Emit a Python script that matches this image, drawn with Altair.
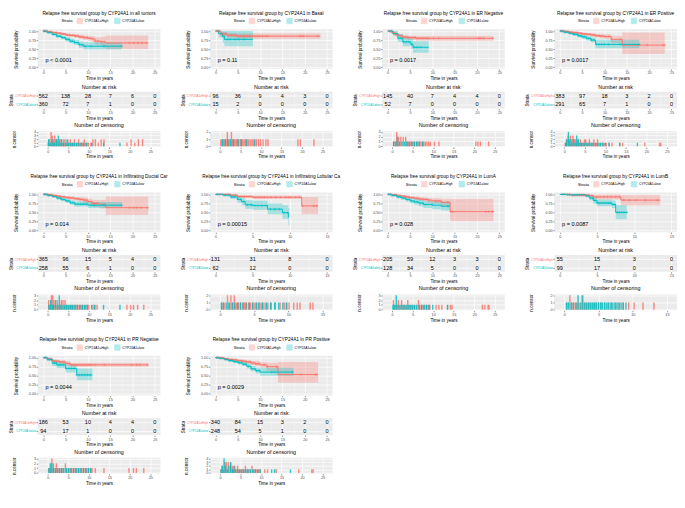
import altair as alt
import pandas as pd

RED, TEAL, BG = "#F8766D", "#00BFC4", "#EBEBEB"
FONT = "Liberation Sans"
GROUPS = ["CYP24A1=High", "CYP24A1=low"]

subsets = ["all tumors", "Basal", "ER Negative", "ER Positive", "Infiltrating Ductal Car",
           "Infiltrating Lobular Ca", "LumA", "LumB", "PR Negative", "PR Positive"]
x_max = [25, 25, 25, 25, 25, 15, 25, 15, 25, 25]
p_text = ["p < 0.0001", "p = 0.11", "p = 0.0017", "p = 0.0017", "p = 0.014",
          "p = 0.00015", "p = 0.028", "p = 0.0087", "p = 0.0044", "p = 0.0029"]
risk_high = [[562, 138, 28, 7, 6, 0], [96, 36, 9, 4, 3, 0], [145, 40, 7, 4, 4, 0],
             [383, 97, 18, 3, 2, 0], [365, 96, 15, 5, 4, 0], [131, 31, 8, 0],
             [205, 59, 12, 3, 3, 0], [55, 15, 3, 0], [186, 53, 10, 4, 4, 0],
             [340, 84, 15, 3, 2, 0]]
risk_low = [[360, 72, 7, 1, 0, 0], [15, 2, 0, 0, 0, 0], [52, 7, 0, 0, 0, 0],
            [291, 65, 7, 1, 0, 0], [258, 55, 6, 1, 0, 0], [62, 12, 0, 0],
            [128, 34, 5, 0, 0, 0], [99, 17, 0, 0], [94, 17, 1, 0, 0, 0],
            [248, 54, 5, 1, 0, 0]]

# Kaplan-Meier steps: time, survival, lower CI, upper CI
high_t = [[0, 1, 2, 3, 4, 5, 6, 7, 8, 9, 10, 11, 11.6, 13, 14, 23.5],
          [0, 1.2, 2.6, 4.7, 23.5],
          [0, 0.8, 1.5, 2.0, 2.7, 3.4, 4.5, 6.3, 23.7],
          [0, 1, 2, 3, 4, 5, 6, 7, 8, 9, 10, 11.5, 14, 23.5],
          [0, 1, 2, 3, 4, 5, 6, 7, 8, 9, 10, 11, 12.5, 14, 23.5],
          [0, 2, 3, 5, 11.6, 13.8],
          [0, 1, 2, 3, 4, 5, 6, 7, 8, 9, 10, 12, 14, 23.7],
          [0, 1.5, 4.0, 4.5, 8.2, 13.5],
          [0, 1, 2, 2.5, 3.5, 5, 6, 23.5],
          [0, 1, 2, 3, 4, 5, 6, 7, 8, 9, 10, 11.5, 14, 23.0]]
high_s = [[1.0, 0.98, 0.96, 0.94, 0.92, 0.89, 0.88, 0.86, 0.84, 0.82, 0.80, 0.78, 0.72, 0.70, 0.67, 0.67],
          [1.0, 0.92, 0.88, 0.86, 0.86],
          [1.0, 0.97, 0.93, 0.89, 0.86, 0.83, 0.82, 0.80, 0.80],
          [1.0, 0.99, 0.97, 0.96, 0.94, 0.92, 0.91, 0.89, 0.87, 0.86, 0.85, 0.77, 0.61, 0.61],
          [1.0, 0.99, 0.97, 0.95, 0.93, 0.91, 0.90, 0.88, 0.86, 0.84, 0.80, 0.75, 0.73, 0.63, 0.63],
          [1.0, 0.98, 0.94, 0.92, 0.68, 0.68],
          [1.0, 0.99, 0.97, 0.95, 0.93, 0.91, 0.89, 0.87, 0.86, 0.84, 0.82, 0.78, 0.52, 0.52],
          [1.0, 0.98, 0.97, 0.93, 0.84, 0.84],
          [1.0, 0.96, 0.92, 0.90, 0.88, 0.84, 0.80, 0.80],
          [1.0, 0.99, 0.97, 0.95, 0.94, 0.92, 0.90, 0.88, 0.85, 0.83, 0.80, 0.75, 0.53, 0.53]]
high_lo = [[1.0, 0.97, 0.94, 0.92, 0.89, 0.86, 0.84, 0.82, 0.79, 0.76, 0.73, 0.70, 0.62, 0.58, 0.50, 0.50],
           [1.0, 0.86, 0.81, 0.79, 0.79],
           [1.0, 0.94, 0.89, 0.84, 0.80, 0.77, 0.75, 0.73, 0.73],
           [1.0, 0.98, 0.95, 0.93, 0.91, 0.89, 0.87, 0.85, 0.82, 0.80, 0.78, 0.67, 0.36, 0.36],
           [1.0, 0.98, 0.95, 0.92, 0.90, 0.87, 0.85, 0.83, 0.80, 0.77, 0.72, 0.65, 0.61, 0.43, 0.43],
           [1.0, 0.95, 0.90, 0.87, 0.45, 0.45],
           [1.0, 0.98, 0.95, 0.92, 0.90, 0.87, 0.85, 0.82, 0.80, 0.77, 0.74, 0.66, 0.25, 0.25],
           [1.0, 0.94, 0.91, 0.86, 0.70, 0.70],
           [1.0, 0.93, 0.88, 0.85, 0.83, 0.78, 0.75, 0.75],
           [1.0, 0.98, 0.95, 0.93, 0.91, 0.88, 0.86, 0.83, 0.79, 0.76, 0.72, 0.64, 0.30, 0.30]]
high_hi = [[1.0, 0.99, 0.98, 0.97, 0.95, 0.93, 0.92, 0.91, 0.89, 0.88, 0.87, 0.86, 0.83, 0.84, 0.88, 0.88],
           [1.0, 0.98, 0.95, 0.93, 0.93],
           [1.0, 1.0, 0.97, 0.94, 0.92, 0.89, 0.88, 0.87, 0.87],
           [1.0, 1.0, 0.99, 0.98, 0.97, 0.95, 0.94, 0.93, 0.92, 0.91, 0.91, 0.87, 0.96, 0.96],
           [1.0, 1.0, 0.99, 0.98, 0.96, 0.95, 0.94, 0.93, 0.92, 0.91, 0.88, 0.85, 0.85, 0.94, 0.94],
           [1.0, 1.0, 0.98, 0.97, 0.93, 0.93],
           [1.0, 1.0, 0.99, 0.98, 0.97, 0.95, 0.94, 0.92, 0.91, 0.90, 0.89, 0.88, 0.87, 0.87],
           [1.0, 1.0, 1.0, 1.0, 0.98, 0.98],
           [1.0, 0.99, 0.96, 0.95, 0.93, 0.90, 0.86, 0.86],
           [1.0, 1.0, 0.99, 0.98, 0.97, 0.95, 0.94, 0.93, 0.91, 0.90, 0.88, 0.86, 0.88, 0.88]]

low_t = [[0, 1, 2, 3, 4, 5, 6, 7, 8, 9, 17.6],
         [0, 0.7, 1.6, 2.0, 8.4],
         [0, 1.2, 2.3, 3.4, 5.2, 5.7, 9.2],
         [0, 1, 2, 3, 4, 5, 6, 7, 8, 17.8],
         [0, 1, 2, 3, 4, 5, 6, 7, 10, 17.6],
         [0, 1, 2, 3, 3.5, 4, 5, 7, 9, 9.8, 9.9],
         [0, 1, 2, 3, 4, 5, 6, 7, 8, 10, 12, 14],
         [0, 1.0, 3.5, 4.0, 4.5, 5.0, 7.0, 7.5, 9.0],
         [0, 1, 2, 3, 5, 7.5, 11],
         [0, 1, 2, 3, 4, 5, 6, 7, 8, 9, 10, 17.5]]
low_s = [[1.0, 0.96, 0.91, 0.86, 0.82, 0.77, 0.72, 0.68, 0.62, 0.58, 0.58],
         [1.0, 0.93, 0.85, 0.77, 0.77],
         [1.0, 0.93, 0.80, 0.70, 0.63, 0.55, 0.55],
         [1.0, 0.97, 0.94, 0.91, 0.87, 0.84, 0.80, 0.75, 0.63, 0.63],
         [1.0, 0.97, 0.94, 0.90, 0.86, 0.82, 0.77, 0.73, 0.70, 0.70],
         [1.0, 0.98, 0.93, 0.86, 0.80, 0.71, 0.69, 0.59, 0.49, 0.37, 0.37],
         [1.0, 0.97, 0.93, 0.90, 0.86, 0.82, 0.79, 0.76, 0.72, 0.70, 0.67, 0.67],
         [1.0, 0.99, 0.96, 0.90, 0.83, 0.76, 0.72, 0.50, 0.50],
         [1.0, 0.95, 0.85, 0.80, 0.70, 0.52, 0.52],
         [1.0, 0.98, 0.95, 0.92, 0.89, 0.86, 0.82, 0.76, 0.69, 0.64, 0.60, 0.60]]
low_lo = [[1.0, 0.94, 0.88, 0.82, 0.77, 0.71, 0.66, 0.61, 0.54, 0.49, 0.49],
          [1.0, 0.82, 0.68, 0.58, 0.58],
          [1.0, 0.86, 0.70, 0.58, 0.50, 0.40, 0.40],
          [1.0, 0.95, 0.91, 0.87, 0.83, 0.79, 0.74, 0.68, 0.52, 0.52],
          [1.0, 0.95, 0.91, 0.86, 0.81, 0.77, 0.71, 0.66, 0.62, 0.62],
          [1.0, 0.94, 0.87, 0.77, 0.70, 0.60, 0.57, 0.45, 0.32, 0.15, 0.15],
          [1.0, 0.94, 0.89, 0.85, 0.80, 0.75, 0.71, 0.67, 0.62, 0.59, 0.55, 0.55],
          [1.0, 0.97, 0.92, 0.84, 0.75, 0.67, 0.62, 0.31, 0.31],
          [1.0, 0.90, 0.77, 0.71, 0.59, 0.37, 0.37],
          [1.0, 0.96, 0.92, 0.88, 0.85, 0.81, 0.77, 0.70, 0.62, 0.56, 0.50, 0.50]]
low_hi = [[1.0, 0.98, 0.94, 0.90, 0.87, 0.83, 0.79, 0.75, 0.71, 0.69, 0.69],
          [1.0, 1.0, 1.0, 1.0, 1.0],
          [1.0, 1.0, 0.92, 0.84, 0.78, 0.72, 0.72],
          [1.0, 0.99, 0.97, 0.95, 0.92, 0.89, 0.86, 0.82, 0.76, 0.76],
          [1.0, 0.99, 0.97, 0.94, 0.91, 0.88, 0.84, 0.81, 0.79, 0.79],
          [1.0, 1.0, 0.99, 0.95, 0.91, 0.84, 0.82, 0.75, 0.70, 0.62, 0.62],
          [1.0, 0.99, 0.97, 0.95, 0.92, 0.89, 0.87, 0.85, 0.82, 0.81, 0.80, 0.80],
          [1.0, 1.0, 1.0, 0.96, 0.91, 0.86, 0.83, 0.70, 0.70],
          [1.0, 1.0, 0.93, 0.89, 0.81, 0.70, 0.70],
          [1.0, 1.0, 0.98, 0.96, 0.94, 0.91, 0.88, 0.83, 0.77, 0.73, 0.72, 0.72]]

# censoring events: (time, count)
cens_high = [
    [(0.1, 1), (0.4, 2), (0.8, 4), (1.1, 3), (1.4, 2), (1.7, 3), (2.0, 2), (2.3, 2), (2.6, 1), (2.9, 2), (3.2, 2), (3.6, 1), (3.9, 2), (4.2, 2), (4.5, 1), (4.9, 2), (5.2, 1), (5.5, 2), (5.9, 1), (6.2, 1), (6.5, 2), (6.9, 1), (7.2, 1), (7.5, 2), (7.9, 1), (8.2, 1), (8.5, 1), (8.9, 2), (9.2, 1), (9.6, 1), (9.9, 1), (10.5, 1), (11.0, 2), (11.6, 2), (12.3, 1), (13.0, 2), (13.7, 2), (19.3, 1), (20.3, 2), (21.2, 1), (22.1, 2), (23.1, 2)],
    [(0.2, 1), (0.5, 1), (0.9, 1), (1.2, 1), (1.5, 1), (1.8, 2), (2.1, 1), (2.4, 1), (2.8, 2), (3.1, 1), (3.4, 1), (3.7, 1), (4.0, 1), (4.3, 1), (4.6, 1), (5.0, 1), (5.3, 1), (5.6, 1), (5.9, 1), (6.3, 1), (6.6, 1), (6.9, 1), (7.3, 1), (7.6, 1), (8.0, 1), (8.3, 1), (8.9, 1), (9.4, 1), (9.9, 1), (10.5, 1), (11.2, 1), (11.7, 1), (19.0, 1), (19.6, 1), (22.9, 1)],
    [(0.3, 1), (0.7, 1), (1.1, 3), (1.6, 2), (2.1, 2), (2.7, 2), (3.3, 2), (3.7, 1), (4.0, 1), (4.4, 1), (4.8, 1), (5.1, 1), (5.5, 1), (5.9, 1), (6.2, 1), (6.6, 1), (7.0, 1), (7.4, 1), (7.7, 1), (8.1, 1), (8.5, 1), (8.9, 1), (9.3, 1), (10.3, 1), (11.4, 1), (20.4, 1), (20.9, 1), (21.5, 1), (23.5, 1)],
    [(0.2, 1), (0.5, 2), (0.9, 3), (1.2, 2), (1.5, 3), (1.8, 2), (2.1, 3), (2.4, 2), (2.7, 2), (3.0, 1), (3.3, 2), (3.6, 1), (3.9, 2), (4.2, 1), (4.5, 1), (4.9, 2), (5.2, 2), (5.5, 1), (5.8, 1), (6.1, 2), (6.5, 1), (6.8, 1), (7.2, 2), (7.5, 1), (7.8, 1), (8.1, 2), (8.5, 1), (8.9, 1), (9.3, 1), (9.7, 1), (10.2, 1), (10.9, 1), (11.6, 1), (13.5, 1), (14.2, 1), (19.6, 1), (23.2, 1), (23.5, 1)],
    [(0.2, 2), (0.5, 1), (0.9, 3), (1.2, 3), (1.5, 2), (1.8, 1), (2.3, 2), (2.6, 1), (3.0, 1), (3.3, 2), (3.7, 2), (4.2, 2), (4.5, 1), (4.9, 1), (5.3, 1), (5.7, 1), (6.0, 1), (6.4, 1), (6.8, 1), (7.2, 1), (7.6, 1), (8.0, 1), (8.4, 1), (8.8, 1), (9.2, 1), (9.6, 1), (10.0, 1), (11.0, 1), (11.5, 1), (12.0, 1), (19.3, 1), (20.2, 1), (20.9, 1), (21.9, 1), (23.4, 1)],
    [(0.3, 1), (0.6, 1), (1.1, 2), (1.4, 1), (1.6, 2), (1.9, 1), (2.1, 2), (2.4, 1), (2.7, 1), (3.0, 1), (3.3, 1), (3.6, 1), (3.9, 1), (4.2, 1), (4.5, 1), (4.8, 1), (5.1, 1), (5.4, 1), (5.7, 1), (6.0, 1), (6.3, 1), (6.6, 1), (7.0, 1), (7.5, 1), (8.1, 1), (8.8, 1), (9.4, 1), (9.8, 1), (10.1, 1), (10.8, 1), (11.3, 1), (11.7, 1), (13.2, 1), (13.6, 1)],
    [(0.3, 2), (0.6, 1), (1.0, 1), (1.5, 2), (1.9, 1), (2.3, 2), (2.7, 1), (3.0, 1), (3.4, 1), (3.8, 2), (4.2, 1), (4.6, 1), (5.0, 1), (5.4, 1), (5.8, 1), (6.4, 2), (6.8, 1), (7.2, 1), (7.6, 1), (8.0, 1), (8.4, 1), (8.8, 1), (9.2, 1), (10.7, 1), (11.4, 1), (12.1, 1), (13.5, 1), (14.2, 1), (14.6, 1), (22.0, 1), (22.6, 1), (23.4, 1), (23.6, 1)],
    [(0.4, 1), (0.8, 2), (1.1, 1), (1.4, 1), (1.7, 1), (2.0, 1), (2.4, 1), (2.7, 2), (3.0, 1), (3.3, 1), (3.6, 1), (3.9, 1), (4.3, 1), (4.6, 1), (5.0, 1), (5.4, 1), (5.9, 1), (6.4, 1), (6.9, 1), (7.5, 1), (8.0, 1), (8.6, 1), (9.4, 1), (10.2, 1), (11.5, 1), (13.1, 1)],
    [(0.2, 1), (0.6, 1), (1.0, 3), (1.4, 2), (1.8, 1), (2.1, 2), (2.5, 1), (2.9, 1), (3.3, 1), (3.7, 1), (4.3, 2), (4.7, 1), (5.1, 1), (5.5, 1), (5.9, 1), (6.3, 1), (6.7, 1), (7.1, 1), (7.5, 1), (7.9, 1), (8.3, 1), (8.7, 1), (9.1, 1), (9.5, 1), (10.0, 1), (10.4, 1), (10.8, 1), (11.6, 1), (13.7, 1), (19.8, 1), (20.9, 1), (21.6, 1), (23.4, 1)],
    [(0.2, 1), (0.5, 2), (0.8, 1), (1.2, 3), (1.5, 3), (2.0, 3), (2.6, 3), (3.0, 2), (3.3, 1), (3.6, 2), (3.9, 1), (4.3, 2), (4.6, 1), (5.0, 1), (5.4, 1), (5.8, 1), (6.2, 2), (6.6, 1), (7.0, 1), (7.4, 1), (7.8, 2), (8.2, 1), (8.6, 1), (9.0, 1), (9.4, 1), (9.8, 1), (10.9, 1), (11.6, 1), (13.7, 1), (19.2, 1), (22.4, 1), (22.7, 1)],
]
cens_low = [
    [(0.2, 2), (0.6, 1), (1.0, 2), (1.3, 1), (1.7, 1), (2.1, 2), (2.6, 3), (3.0, 1), (3.4, 2), (3.8, 1), (4.3, 1), (4.7, 2), (5.1, 1), (5.6, 1), (6.0, 1), (6.5, 1), (7.0, 1), (7.6, 1), (8.1, 1), (8.7, 1), (9.4, 1), (10.7, 1), (13.6, 1), (17.6, 1)],
    [(0.6, 1), (1.3, 1), (1.9, 1), (2.6, 1), (3.3, 1), (4.4, 1), (5.2, 1), (6.4, 1), (8.5, 1)],
    [(0.4, 1), (0.9, 1), (1.3, 2), (1.8, 1), (2.4, 1), (3.0, 1), (3.6, 1), (4.2, 1), (4.8, 1), (5.4, 1), (6.0, 1), (6.6, 1), (7.4, 1)],
    [(0.3, 1), (0.6, 2), (1.0, 4), (1.4, 2), (1.8, 1), (2.2, 2), (2.6, 1), (3.0, 3), (3.4, 2), (3.8, 1), (4.2, 1), (4.6, 1), (5.0, 1), (5.5, 1), (6.0, 1), (6.5, 1), (7.0, 1), (7.6, 1), (8.2, 1), (8.8, 1), (9.4, 1), (10.0, 1), (10.9, 1), (13.5, 1), (17.8, 1)],
    [(0.3, 1), (0.7, 2), (1.1, 1), (1.4, 1), (1.9, 2), (2.3, 1), (2.8, 3), (3.2, 1), (3.7, 1), (4.1, 1), (4.6, 1), (5.1, 1), (5.6, 1), (6.1, 1), (6.6, 1), (7.2, 1), (7.8, 1), (8.4, 1), (9.0, 1), (9.6, 1), (10.7, 1), (11.4, 1), (13.6, 1), (17.6, 1)],
    [(0.2, 1), (0.5, 1), (0.9, 1), (1.3, 1), (1.8, 1), (2.2, 1), (2.6, 1), (3.0, 1), (3.4, 1), (3.8, 1), (4.3, 1), (4.8, 1), (5.3, 1), (5.7, 1), (6.2, 1), (6.8, 1), (7.4, 1), (8.0, 1), (8.6, 1), (9.2, 1), (9.7, 1)],
    [(0.2, 1), (0.6, 1), (1.0, 3), (1.4, 1), (1.9, 1), (2.4, 1), (2.9, 1), (3.4, 1), (3.9, 1), (4.4, 1), (4.9, 1), (5.4, 1), (6.0, 1), (6.6, 1), (7.2, 1), (7.8, 1), (8.4, 1), (9.0, 1), (9.9, 1), (13.5, 1)],
    [(0.3, 1), (0.6, 1), (1.0, 1), (1.3, 1), (1.7, 1), (2.0, 2), (2.3, 1), (2.6, 2), (2.9, 1), (3.2, 1), (3.5, 1), (3.8, 1), (4.1, 1), (4.4, 1), (4.7, 1), (5.0, 1), (5.3, 1), (5.6, 1), (5.9, 1), (6.2, 1), (6.5, 1), (6.8, 1), (7.1, 1), (7.4, 1), (7.7, 1), (8.0, 1), (8.3, 1), (8.6, 1), (9.0, 1)],
    [(0.3, 1), (0.6, 2), (1.0, 2), (1.4, 1), (1.9, 1), (2.4, 1), (2.9, 1), (3.4, 1), (3.9, 1), (4.5, 1), (5.1, 1), (5.7, 1), (6.3, 1), (6.9, 1), (7.5, 1), (8.1, 1), (8.7, 1), (9.3, 1), (9.9, 1), (10.5, 1)],
    [(0.3, 1), (0.6, 2), (1.0, 4), (1.4, 2), (1.8, 1), (2.2, 2), (2.6, 3), (3.0, 1), (3.4, 2), (3.8, 1), (4.3, 1), (4.8, 1), (5.3, 1), (5.8, 1), (6.3, 1), (6.8, 1), (7.4, 1), (8.0, 1), (8.6, 1), (9.2, 1), (9.8, 1), (12.6, 1), (13.3, 1), (17.2, 1)],
]
cens_ymax = [4, 2, 3, 4, 3, 2, 3, 2, 3, 4]

# ---------------- layout / style ----------------
W, H_KM, H_RISK, H_CENS = 124, 40, 17, 16
COLOR_SCALE = alt.Scale(domain=GROUPS, range=[RED, TEAL])
PLUS = "M0,-1L0,1M-1,0L1,0"


def grid_axis(title, values, major, **kw):
    return alt.Axis(title=title, values=values, grid=True, labelOverlap=False,
                    labelExpr=f"({major}) ? datum.label : ''",
                    gridWidth={"condition": {"test": major, "value": 0.7}, "value": 0.3},
                    tickOpacity={"condition": {"test": major, "value": 1}, "value": 0},
                    **kw)


def x_enc(xm, field="t"):
    vals = [k * 2.5 for k in range(int(xm / 2.5) + 1)]
    return alt.X(f"{field}:Q",
                 scale=alt.Scale(domain=[-0.05 * xm, 1.05 * xm], nice=False, zero=False),
                 axis=grid_axis("Time in years", vals, "datum.value % 5 == 0", format="d"))


def step_value(T, S, t):
    v = S[0]
    for a, b in zip(T, S):
        if a <= t:
            v = b
    return v


def panel(i):
    xm = x_max[i]
    rows, marks = [], []
    for g, T, S, LO, HI, C in [(GROUPS[0], high_t[i], high_s[i], high_lo[i], high_hi[i], cens_high[i]),
                               (GROUPS[1], low_t[i], low_s[i], low_lo[i], low_hi[i], cens_low[i])]:
        rows += [dict(g=g, t=a, s=b, lo=c, hi=d) for a, b, c, d in zip(T, S, LO, HI)]
        marks += [dict(g=g, t=a, s=step_value(T, S, a)) for a, _ in C if a <= T[-1]]
    df = pd.DataFrame(rows)
    dm = pd.DataFrame(marks)
    yscale = alt.Scale(domain=[-0.05, 1.05], nice=False, zero=False)
    yax = grid_axis("Survival probability", [k / 8 for k in range(9)],
                    "abs(datum.value*4 - round(datum.value*4)) < 0.001",
                    format=".2f", titlePadding=10)
    leg = alt.Legend(orient="none", legendX=24, legendY=-12, direction="horizontal",
                     title="Strata", titleOrient="left", titleFontSize=4.2,
                     titleFontWeight="normal", titlePadding=3, labelFontSize=3.4,
                     symbolType="square", symbolSize=30, symbolStrokeWidth=0.8,
                     labelOffset=1.5, columnPadding=4)
    col = alt.Color("g:N", scale=COLOR_SCALE, legend=leg)
    band = alt.Chart(df).mark_area(interpolate="step-after", opacity=0.3).encode(
        x=x_enc(xm), y=alt.Y("lo:Q", scale=yscale, axis=yax), y2="hi:Q", color=col)
    line = alt.Chart(df).mark_line(interpolate="step-after", strokeWidth=1).encode(
        x=x_enc(xm), y=alt.Y("s:Q", scale=yscale, axis=yax), color=col)
    plus = alt.Chart(dm).mark_point(shape=PLUS, size=7, strokeWidth=0.5, filled=False,
                                    opacity=1).encode(
        x=x_enc(xm), y=alt.Y("s:Q", scale=yscale, axis=yax), color=col)
    pdf = pd.DataFrame({"t": [0.02 * xm], "y": [0.19], "lab": [p_text[i]]})
    ptxt = alt.Chart(pdf).mark_text(align="left", baseline="middle", fontSize=5.6,
                                    font=FONT, color="black").encode(
        x=x_enc(xm), y=alt.Y("y:Q", scale=yscale, axis=yax), text="lab:N")
    km = alt.layer(band, line, plus, ptxt).properties(
        width=W, height=H_KM,
        title=alt.Title(f"Relapse free survival group by CYP24A1 in {subsets[i]}",
                        fontSize=4.8, anchor="middle", frame="group", offset=2))

    times = list(range(0, xm + 1, 5))
    dr = pd.DataFrame({"t": times * 2,
                       "g": [GROUPS[0]] * len(times) + [GROUPS[1]] * len(times),
                       "n": risk_high[i] + risk_low[i]})
    risk = alt.Chart(dr).mark_text(fontSize=5.6, font=FONT, color="black").encode(
        x=x_enc(xm),
        y=alt.Y("g:N", sort=GROUPS, scale=alt.Scale(domain=GROUPS),
                axis=alt.Axis(title="Strata", grid=True, gridWidth=0.7, labelFontSize=3.1,
                              labelColor={"condition": {"test": f"datum.value == '{GROUPS[0]}'",
                                                        "value": RED}, "value": TEAL})),
        text="n:Q").properties(
        width=W, height=H_RISK,
        title=alt.Title("Number at risk", fontSize=5.4, anchor="middle", frame="group", offset=1.5))

    crow = [dict(g=GROUPS[0], t=a, n=b) for a, b in cens_high[i]] + \
           [dict(g=GROUPS[1], t=a, n=b) for a, b in cens_low[i]]
    dc = pd.DataFrame(crow)
    dc["z"] = 0
    ym = cens_ymax[i]
    cens = alt.Chart(dc).mark_bar(size=1.4, opacity=0.85).encode(
        x=x_enc(xm),
        y=alt.Y("n:Q", scale=alt.Scale(domain=[-0.05 * ym, 1.05 * ym], nice=False, zero=False),
                axis=grid_axis("n.censor", [k / 2 for k in range(2 * ym + 1)],
                               "datum.value % 1 == 0", format="d", titlePadding=17)),
        y2="z:Q",
        color=alt.Color("g:N", scale=COLOR_SCALE, legend=None)).properties(
        width=W, height=H_CENS,
        title=alt.Title("Number of censoring", fontSize=5.4, anchor="middle", frame="group", offset=1.5))

    return alt.vconcat(km, risk, cens, spacing=23, bounds="flush").resolve_scale(
        x="independent", color="independent").resolve_legend(color="independent")


chart = alt.concat(*[panel(i) for i in range(10)], columns=4, align="all",
                   spacing={"row": 15, "column": 12}).resolve_scale(
    color="independent").resolve_legend(color="independent").properties(
    padding={"left": 0, "top": 0, "right": 0, "bottom": 0}
).configure_view(fill=BG, stroke=None).configure_axis(
    domain=False, labelFont=FONT, titleFont=FONT, labelFontSize=3.8, titleFontSize=4.6,
    labelColor="#4D4D4D", titleColor="black", titleFontWeight="normal",
    tickColor="#333333", tickSize=1.5, tickWidth=0.5, labelPadding=0.6, titlePadding=1,
    gridColor="white"
).configure_title(font=FONT, fontWeight="normal", color="black").configure_legend(
    labelFont=FONT, titleFont=FONT, labelColor="black", titleColor="black")

chart.save("out.html", embed_options={"renderer": "svg", "actions": False})
